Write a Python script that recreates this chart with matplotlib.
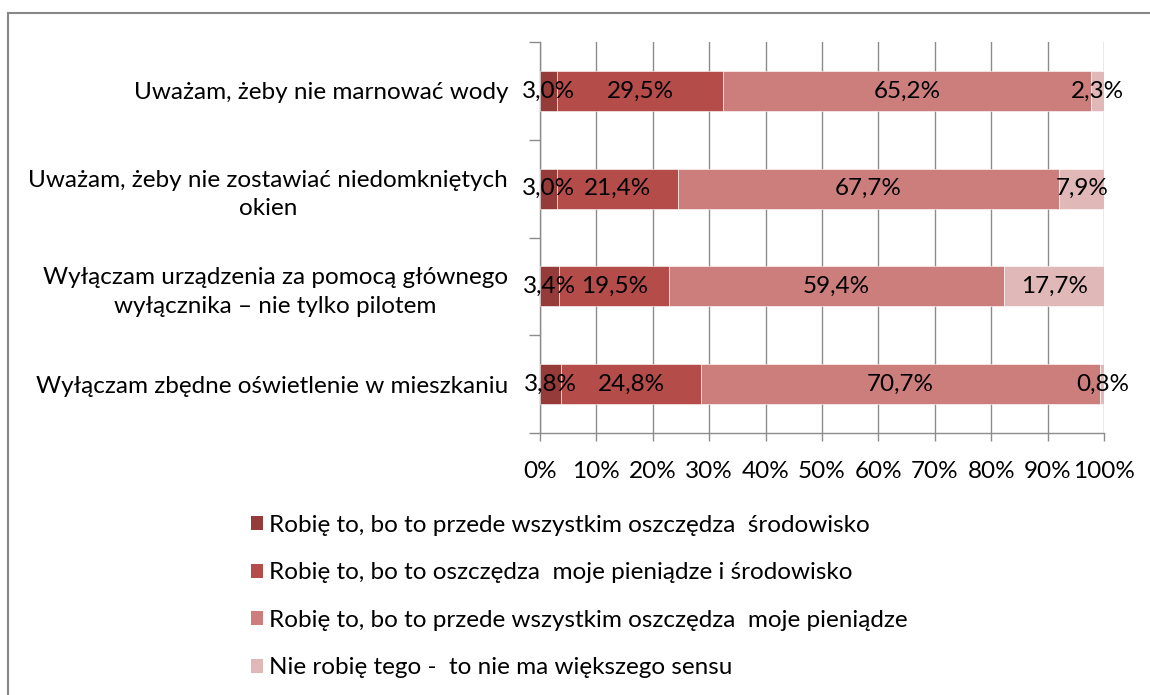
import numpy as np
import matplotlib.pyplot as plt
from matplotlib.lines import Line2D
from matplotlib.patches import Patch

plt.rcParams['font.family'] = ['Lato', 'DejaVu Sans']

# Survey answers, rows listed from top to bottom
categories = [
    'Uważam, żeby nie marnować wody',
    'Uważam, żeby nie zostawiać niedomkniętych\nokien',
    'Wyłączam urządzenia za pomocą głównego\nwyłącznika – nie tylko pilotem',
    'Wyłączam zbędne oświetlenie w mieszkaniu',
]
series_names = [
    'Robię to, bo to przede wszystkim oszczędza  środowisko',
    'Robię to, bo to oszczędza  moje pieniądze i środowisko',
    'Robię to, bo to przede wszystkim oszczędza  moje pieniądze',
    'Nie robię tego -  to nie ma większego sensu',
]
env_only = [3.0, 3.0, 3.4, 3.8]
money_and_env = [29.5, 21.4, 19.5, 24.8]
money_only = [65.2, 67.7, 59.4, 70.7]
no_sense = [2.3, 7.9, 17.7, 0.8]

colors = ['#953b3a', '#b44c4a', '#cc7e7d', '#e1b8b8']
values = [env_only, money_and_env, money_only, no_sense]

fig = plt.figure(figsize=(11.5, 6.95), dpi=100)
ax = fig.add_axes([540 / 1150, 1 - 433 / 695, 564 / 1150, 391 / 695])

fs = 17.5
ypos = np.arange(len(categories))
left = np.zeros(len(categories))
for vals, col in zip(values, colors):
    vals = np.array(vals)
    ax.barh(ypos, vals, left=left, height=0.41, color=col,
            edgecolor='white', linewidth=0.4, zorder=3)
    for y, l, v in zip(ypos, left, vals):
        ax.text(l + v / 2, y, f'{v:.1f}%'.replace('.', ','), ha='center',
                va='center', fontsize=fs, color='black', zorder=4)
    left += vals

ax.set_xlim(0, 100)
ax.set_ylim(len(categories) - 0.5, -0.5)
ax.set_xticks(np.arange(0, 101, 10))
ax.set_xticklabels([f'{t}%' for t in range(0, 101, 10)], fontsize=fs)
ax.set_yticks(ypos)
ax.set_yticklabels(categories, fontsize=fs, ha='right', multialignment='center',
                   linespacing=1.45)
ax.set_yticks(np.arange(-0.5, len(categories)), minor=True)
ax.tick_params(axis='y', which='major', length=0, pad=23)
ax.tick_params(axis='y', which='minor', length=8, color='#8c8c8c', width=1)
ax.tick_params(axis='x', length=6, color='#8c8c8c', width=1, pad=14)

ax.grid(axis='x', color='#8c8c8c', linewidth=1, zorder=0)
for side in ['top', 'right']:
    ax.spines[side].set_visible(False)
for side in ['left', 'bottom']:
    ax.spines[side].set_color('#8c8c8c')
    ax.spines[side].set_linewidth(1)

handles = [Patch(facecolor=c, edgecolor='none') for c in colors]
fig.legend(handles, series_names, loc='upper left',
           bbox_to_anchor=(251 / 1150, 1 - 515 / 695), frameon=False,
           fontsize=fs, handlelength=0.5, handleheight=0.5,
           handletextpad=0.25, labelspacing=1.09, borderpad=0, borderaxespad=0)

# outer frame, only the top and left edges fall inside the image
fig.add_artist(Line2D([8 / 1150, 1], [1 - 13 / 695, 1 - 13 / 695],
                      transform=fig.transFigure, color='#888888', linewidth=1.5))
fig.add_artist(Line2D([8 / 1150, 8 / 1150], [0, 1 - 13 / 695],
                      transform=fig.transFigure, color='#888888', linewidth=1.5))

fig.savefig('out.png', dpi=100)
